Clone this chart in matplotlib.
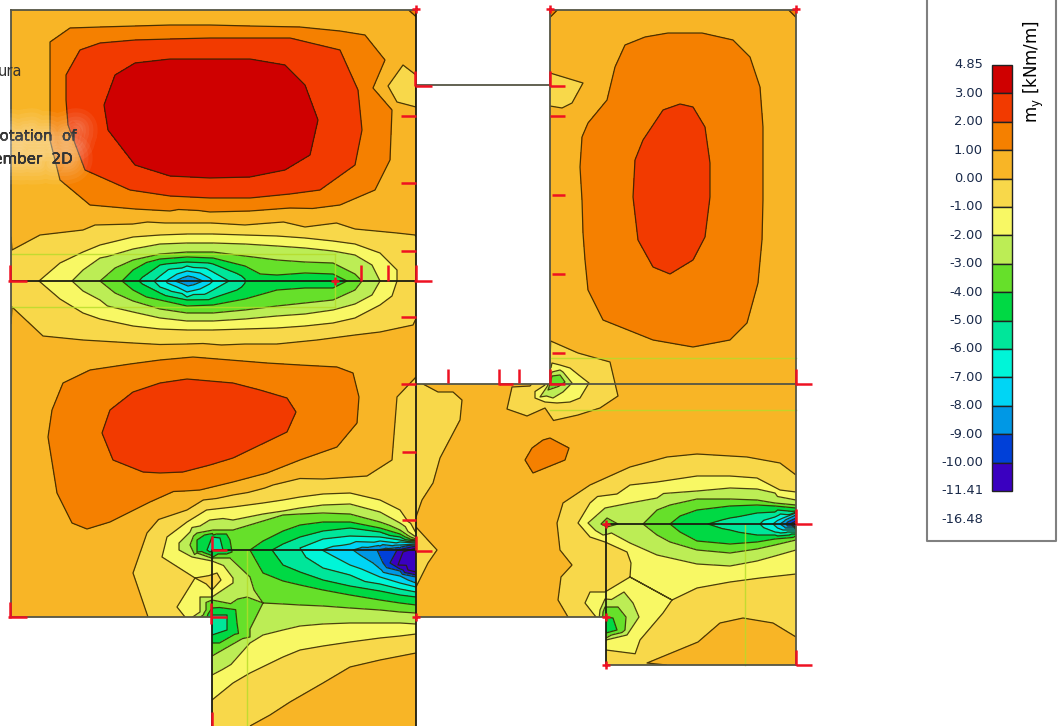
import matplotlib
matplotlib.use('Agg')
import matplotlib.pyplot as plt
import matplotlib.patheffects as pe
import matplotlib.tri as tri
from matplotlib.path import Path

plt.rcParams['contour.negative_linestyle'] = 'solid'

# legend
tick_labels = ['4.85', '3.00', '2.00', '1.00', '0.00', '-1.00', '-2.00', '-3.00', '-4.00',
               '-5.00', '-6.00', '-7.00', '-8.00', '-9.00', '-10.00', '-11.41', '-16.48']
band_colors = ['#cf0000', '#f23a00', '#f58000', '#f8b526', '#f8d84a', '#f8f864', '#bced55', '#66e02a',
               '#00d944', '#00e69a', '#00f5d8', '#00d5f5', '#0098e5', '#0040d8', '#3a00c0']
levels = [-16.48, -11.41, -10, -9, -8, -7, -6, -5, -4, -3, -2, -1, 0, 1, 2, 3, 4.85]

# panel outlines in picture pixels
left_outline = [(11, 10), (416, 10), (416, 726), (212, 726), (212, 617), (11, 617)]
right_outline = [(550, 10), (796, 10), (796, 665), (606, 665), (606, 617), (416, 617), (416, 384), (550, 384)]

# left slab, moment samples: (x, y) for each value
a_amber = [(11, 10), (100, 10), (210, 10), (330, 10), (11, 100), (11, 200), (416, 40), (416, 140),
           (416, 200), (11, 360), (11, 450), (11, 540), (11, 617), (70, 617), (120, 617), (385, 360), (416, 350),
           (100, 600), (90, 560), (416, 700), (416, 726), (340, 726), (350, 700), (385, 690)]
a_corner = [(416, 10)]
a_corner_1 = [(405, 10), (416, 20)]
a_top_1 = [(50, 42), (70, 28), (100, 27), (135, 26), (170, 25), (210, 25), (250, 26), (300, 27), (340, 31), (365, 35),
           (385, 60), (392, 110), (390, 160), (375, 190), (340, 205), (290, 208), (250, 211), (210, 212), (170, 211),
           (135, 209), (90, 205), (60, 180), (50, 140), (50, 100), (50, 70)]
a_top_2 = [(66, 75), (80, 50), (100, 43), (135, 40), (170, 39), (210, 38), (250, 38), (290, 38), (340, 50), (358, 90),
           (362, 130), (355, 165), (320, 190), (290, 194), (250, 198), (210, 198), (170, 196), (130, 190), (85, 170),
           (68, 125), (66, 100)]
a_top_3 = [(104, 105), (115, 75), (135, 63), (170, 59), (210, 59), (250, 59), (285, 65), (305, 85), (318, 120),
           (310, 155), (285, 170), (250, 177), (210, 178), (170, 176), (135, 165), (108, 130)]
a_top_core = [(135, 118), (175, 118), (210, 118), (245, 118), (285, 118)]
a_island_0 = [(388, 86), (403, 65), (416, 75), (416, 107), (397, 102)]
a_island_core = [(414, 86)]
a_strip_0 = [(12, 250), (27, 233), (40, 235), (83, 230), (133, 224), (187, 223), (245, 225), (305, 227), (355, 229),
             (397, 233), (415, 235),
             (12, 307), (20, 330), (43, 336), (83, 340), (133, 343), (187, 344), (245, 344), (277, 344), (317, 340),
             (355, 335), (380, 332), (413, 325)]
a_strip_edge = [(11, 281), (416, 281)]
a_strip_m1 = [(39, 281), (60, 263), (83, 252), (100, 245), (133, 237), (160, 235), (187, 234), (213, 234), (245, 235),
              (277, 236), (305, 238), (333, 241), (355, 244), (380, 253), (397, 270), (397, 281),
              (60, 299), (83, 313), (100, 319), (133, 326), (160, 329), (187, 330), (213, 330), (245, 329), (277, 328),
              (305, 326), (333, 323), (355, 318), (380, 305), (392, 296)]
a_strip_m2 = [(72, 281), (83, 270), (100, 258), (133, 249), (160, 244), (187, 243), (213, 243), (245, 244), (277, 246),
              (305, 248), (333, 251), (355, 255), (372, 265), (380, 281),
              (83, 291), (100, 300), (133, 312), (160, 318), (187, 321), (213, 321), (245, 319), (277, 316), (305, 314),
              (333, 310), (355, 304), (372, 295)]
a_strip_m3 = [(100, 281), (115, 268), (133, 260), (160, 254), (187, 252), (213, 252), (245, 256), (277, 260), (305, 262),
              (333, 263), (355, 274), (362, 281),
              (115, 293), (133, 301), (160, 309), (187, 313), (213, 313), (245, 310), (277, 306), (305, 303), (333, 300),
              (355, 290)]
a_strip_m4 = [(122, 281), (133, 270), (160, 259), (187, 257), (213, 258), (245, 266), (277, 275), (305, 273), (333, 274),
              (347, 281),
              (133, 290), (160, 300), (187, 306), (213, 305), (245, 299), (277, 290), (305, 288), (333, 288)]
a_strip_neck = [(277, 281), (305, 281), (333, 281)]
a_strip_m5 = [(139, 281), (160, 265), (187, 262), (213, 264), (245, 279), (249, 281), (245, 283), (213, 298), (187, 300),
              (160, 293)]
a_strip_m6 = [(154, 281), (160, 276), (187, 266), (213, 272), (229, 281), (213, 290), (187, 297), (160, 287)]
a_strip_m7 = [(166, 281), (177, 274), (187, 271), (200, 273), (213, 281), (200, 289), (187, 292), (177, 287)]
a_strip_m8 = [(175, 281), (188, 276), (203, 281), (188, 286)]
a_strip_core = [(188, 281)]
a_crease_m15 = [(55, 281), (388, 281)]
a_crease_m25 = [(88, 281), (370, 281)]
a_crease_m35 = [(112, 281), (355, 281)]
a_crease_m45 = [(131, 281), (252, 281)]
a_crease_m55 = [(147, 281), (240, 281)]
a_crease_m65 = [(160, 281), (221, 281)]
a_crease_m75 = [(171, 281), (208, 281)]
a_low_1 = [(48, 437), (52, 410), (63, 383), (90, 370), (130, 364), (160, 360), (193, 357), (230, 360), (267, 363),
           (300, 365), (337, 367), (353, 373), (359, 397), (357, 423), (337, 447), (300, 460), (267, 473), (233, 482),
           (200, 490), (150, 502), (110, 522), (87, 529), (72, 523), (57, 493)]
a_low_2 = [(102, 433), (110, 410), (133, 392), (160, 383), (187, 379), (210, 381), (233, 383), (260, 390), (287, 398),
           (296, 412), (287, 432), (260, 445), (233, 458), (210, 465), (183, 472), (160, 473), (143, 472), (113, 460)]
a_low_core = [(130, 430), (160, 428), (190, 425), (220, 422), (255, 420)]
a_feat_0 = [(148, 617), (133, 573), (147, 533), (187, 510), (233, 495), (273, 485), (323, 479), (367, 476), (392, 460),
            (397, 397), (402, 382), (416, 377), (416, 520),
            (416, 653), (380, 660), (350, 667), (323, 683), (290, 702), (292, 713), (270, 715), (250, 726)]
a_wall = [(416, 450), (408, 490)]
a_feat_m1 = [(177, 607), (162, 557), (167, 537), (187, 522), (233, 507), (263, 503), (283, 500), (300, 497), (323, 494),
             (350, 493), (380, 500), (400, 510), (416, 533),
             (185, 617), (416, 634), (400, 636), (380, 638), (350, 642), (323, 646), (300, 650), (283, 657), (250, 673),
             (233, 683), (212, 700),
             (195, 578), (217, 573), (221, 580), (212, 590)]
a_feat_m1_low = [(212, 726)]
a_island_m1_core = [(208, 580)]
a_feat_m2 = [(179, 543), (190, 532), (233, 520), (263, 514), (283, 511), (300, 508), (323, 505), (350, 504), (380, 512),
             (400, 523), (416, 537),
             (179, 550), (192, 557), (212, 561), (233, 578), (233, 583), (212, 597), (200, 597), (195, 605), (200, 612),
             (416, 624), (400, 623), (380, 623), (350, 623), (323, 624), (300, 626), (283, 630), (263, 635), (250, 643),
             (212, 675)]
a_feat_m3 = [(190, 545), (197, 533), (213, 530), (233, 530), (263, 521), (283, 515), (300, 514), (323, 513), (350, 514),
             (380, 522), (400, 530), (416, 539),
             (197, 553), (213, 558), (230, 558), (250, 577), (254, 590), (247, 597), (212, 600),
             (416, 613), (400, 612), (380, 610), (350, 608), (323, 606), (300, 605), (283, 604), (263, 603), (250, 637),
             (212, 656)]
a_feat_m3_in = [(240, 607), (240, 550)]
a_feat_m4 = [(250, 550), (263, 541), (283, 531), (300, 525), (323, 522), (350, 522), (380, 528), (400, 534), (416, 540),
             (263, 573), (283, 581), (300, 585), (323, 590), (350, 595), (380, 600), (400, 603), (416, 605),
             (197, 540), (213, 535), (230, 540), (232, 552), (213, 557), (197, 552),
             (212, 608), (237, 623), (212, 643)]
a_feat_m5 = [(272, 550), (283, 544), (300, 537), (323, 531), (350, 528), (380, 532), (400, 537), (416, 541),
             (283, 565), (300, 572), (323, 580), (350, 586), (380, 591), (400, 595), (416, 597),
             (207, 550), (212, 537), (220, 538), (223, 550), (210, 552),
             (212, 615), (227, 615), (227, 630), (212, 635)]
a_blob_core = [(214, 546), (212, 622)]
a_feat_m6 = [(295, 550), (300, 548), (323, 539), (350, 536), (380, 537), (400, 540), (416, 542),
             (323, 568), (350, 575), (380, 584), (400, 589), (416, 592)]
a_feat_m7 = [(322, 550), (350, 544), (380, 541), (400, 542), (416, 543),
             (350, 565), (380, 577), (400, 583), (416, 587)]
a_feat_m8 = [(353, 550), (380, 546), (400, 545), (416, 544), (373, 563), (400, 576), (416, 583)]
a_feat_m9 = [(377, 550), (400, 548), (416, 545), (383, 563), (400, 571), (416, 577)]
a_feat_m10 = [(397, 550), (416, 546), (390, 563), (403, 570), (416, 575)]
a_feat_m11 = [(403, 552), (416, 548), (398, 565), (408, 570), (416, 572)]
a_feat_core = [(416, 555), (410, 560)]
a_line_m45 = [(262, 550)]
a_line_m55 = [(284, 550)]
a_line_m65 = [(309, 550)]
a_line_m75 = [(338, 550)]
a_line_m85 = [(365, 550)]
a_line_m95 = [(387, 550)]

a_samples = [(0.5, a_amber), (1.6, a_corner), (0.7, a_corner_1), (1, a_top_1), (2, a_top_2), (3, a_top_3),
             (3.8, a_top_core), (0, a_island_0), (-0.5, a_island_core), (0, a_strip_0), (-0.6, a_strip_edge),
             (-1, a_strip_m1), (-2, a_strip_m2), (-3, a_strip_m3), (-4, a_strip_m4), (-4.7, a_strip_neck),
             (-5, a_strip_m5), (-6, a_strip_m6), (-7, a_strip_m7), (-8, a_strip_m8), (-8.9, a_strip_core),
             (-1.5, a_crease_m15), (-2.5, a_crease_m25), (-3.5, a_crease_m35), (-4.5, a_crease_m45),
             (-5.5, a_crease_m55), (-6.5, a_crease_m65), (-7.5, a_crease_m75),
             (1, a_low_1), (2, a_low_2), (2.7, a_low_core), (0, a_feat_0), (-0.3, a_wall), (-1, a_feat_m1),
             (-0.3, a_feat_m1_low), (-0.7, a_island_m1_core), (-2, a_feat_m2), (-3, a_feat_m3), (-3.5, a_feat_m3_in),
             (-4, a_feat_m4), (-5, a_feat_m5), (-5.5, a_blob_core), (-6, a_feat_m6), (-7, a_feat_m7), (-8, a_feat_m8),
             (-9, a_feat_m9), (-10, a_feat_m10), (-11.41, a_feat_m11), (-13, a_feat_core),
             (-4.5, a_line_m45), (-5.5, a_line_m55), (-6.5, a_line_m65), (-7.5, a_line_m75), (-8.5, a_line_m85),
             (-9.5, a_line_m95)]

# right slabs
b_amber = [(620, 10), (700, 10), (796, 100), (796, 200), (796, 300), (796, 384), (796, 440),
           (550, 40), (550, 150), (550, 250), (550, 330), (620, 360), (700, 370), (770, 400), (700, 420), (620, 430),
           (690, 435), (750, 440), (500, 440), (480, 480), (520, 520), (480, 580), (520, 600), (530, 490), (590, 450),
           (490, 400), (480, 430), (490, 384), (416, 600), (416, 617), (440, 617), (500, 617), (540, 617), (700, 665),
           (745, 665), (796, 665), (750, 640), (796, 650), (440, 384), (416, 522), (660, 384), (720, 384)]
b_corners = [(796, 10), (550, 10)]
b_corners_1 = [(785, 10), (796, 21), (561, 10), (550, 21)]
b_dome_1 = [(668, 33), (702, 33), (733, 40), (750, 57), (760, 87), (763, 127), (763, 165), (763, 200), (762, 240),
            (758, 283), (747, 323), (730, 340), (693, 347), (653, 340), (603, 320), (588, 290), (585, 260), (583, 233),
            (582, 200), (580, 167), (582, 137), (588, 123), (607, 100), (615, 67), (625, 45), (645, 37)]
b_dome_2 = [(680, 104), (693, 107), (705, 127), (710, 163), (710, 197), (705, 237), (693, 260), (670, 274), (653, 267),
            (638, 240), (633, 197), (635, 160), (643, 140), (663, 110)]
b_dome_core = [(670, 135), (672, 165), (670, 190), (670, 215), (670, 245)]
b_island_0 = [(550, 73), (563, 63), (583, 83), (572, 103), (562, 108), (550, 106)]
b_island_core = [(550, 88)]
b_patch_1 = [(525, 460), (533, 473), (565, 460), (569, 448), (550, 438), (543, 440), (532, 448)]
b_patch_core = [(547, 455)]
c_band_0 = [(423, 384), (438, 392), (453, 392), (462, 384), (470, 385), (462, 400), (460, 420), (440, 458), (433, 483),
            (422, 500), (419, 513), (416, 517), (416, 527), (437, 550), (428, 563), (416, 587)]
c_band_in = [(416, 384), (416, 400), (416, 470), (416, 550), (440, 420)]
c_node_0 = [(502, 397), (512, 387), (530, 386), (507, 409), (527, 416), (545, 408), (578, 415), (600, 408), (618, 396),
            (637, 383), (644, 371), (610, 362), (578, 353), (550, 363), (777, 397), (785, 403), (795, 399), (783, 388),
            (795, 392)]
c_node_m1 = [(545, 385), (535, 398), (545, 402), (557, 403), (570, 402), (580, 398), (589, 383), (580, 376), (570, 368),
             (560, 365), (552, 363)]
c_node_m2 = [(548, 385), (540, 397), (553, 398), (563, 392), (572, 383), (563, 372), (552, 372)]
c_node_m3 = [(550, 384), (548, 390), (565, 382), (560, 375), (552, 376)]
c_node_core = [(556, 383)]
c_feat_0 = [(796, 475), (780, 463), (747, 457), (697, 454), (667, 457), (630, 467), (590, 485), (563, 503), (557, 523),
            (560, 550), (572, 565), (561, 577), (558, 600), (568, 617),
            (796, 637), (773, 623), (743, 618), (720, 623), (698, 642), (697, 652), (647, 663)]
c_feat_in = [(606, 665), (640, 665), (580, 617)]
c_feat_m1 = [(796, 492), (780, 490), (757, 478), (730, 476), (697, 476), (657, 482), (617, 494), (590, 503), (578, 523),
             (590, 537), (605, 542), (627, 552), (631, 563), (630, 577), (605, 592), (590, 592), (585, 603), (592, 612),
             (596, 617),
             (606, 650), (640, 640), (663, 613), (672, 600), (697, 588), (730, 582), (760, 578), (796, 574)]
c_feat_m2 = [(796, 500), (775, 493), (757, 489), (730, 488), (697, 491), (657, 498), (630, 503), (605, 508), (588, 523),
             (603, 535), (630, 543), (657, 555), (697, 564), (730, 566), (757, 561), (775, 556), (796, 550),
             (600, 610), (605, 599), (633, 603), (639, 617), (627, 635), (606, 640)]
c_feat_m25 = [(625, 524)]
c_feat_m3 = [(796, 505), (775, 503), (757, 500), (730, 499), (697, 499), (670, 505), (657, 510), (643, 524), (657, 535),
             (670, 542), (697, 550), (730, 553), (757, 549), (775, 545), (796, 540),
             (601, 524), (607, 518), (618, 524), (607, 527),
             (603, 612), (605, 607), (618, 607), (626, 617), (625, 630), (606, 638)]
c_mini_core = [(607, 523)]
c_feat_m4 = [(796, 508), (775, 506), (757, 505), (730, 506), (697, 510), (680, 516), (670, 524), (680, 532), (697, 541),
             (730, 544), (757, 542), (775, 539), (796, 536),
             (606, 617), (613, 618), (617, 630), (606, 633)]
c_line_m35 = [(654, 524)]
c_line_m43 = [(679, 524)]
c_line_m46 = [(695, 524)]
c_line_m53 = [(720, 524)]
c_line_m55 = [(731, 524)]
c_line_m57 = [(745, 524)]
c_line_m65 = [(767, 524)]
c_blob_core = [(606, 624)]
c_feat_m5 = [(708, 524), (730, 518), (757, 513), (775, 512), (796, 511),
             (730, 530), (757, 535), (775, 535), (796, 534)]
c_feat_m6 = [(760, 524), (775, 517), (796, 512), (775, 532), (796, 532)]
c_feat_m7 = [(773, 524), (783, 518), (796, 513), (783, 530), (796, 530)]
c_feat_m8 = [(780, 524), (796, 515), (796, 529)]
c_feat_m9 = [(786, 524), (796, 518), (796, 528)]
c_feat_m10 = [(790, 524), (796, 521), (796, 527)]
c_feat_core = [(796, 524)]

bc_samples = [(0.5, b_amber), (1.6, b_corners), (0.7, b_corners_1), (1, b_dome_1), (2, b_dome_2), (2.6, b_dome_core),
              (0, b_island_0), (-0.5, b_island_core), (1, b_patch_1), (1.4, b_patch_core), (0, c_band_0),
              (-0.4, c_band_in), (0, c_node_0), (-1, c_node_m1), (-2, c_node_m2), (-3, c_node_m3), (-3.6, c_node_core),
              (0, c_feat_0), (-0.4, c_feat_in), (-1, c_feat_m1), (-2, c_feat_m2), (-2.5, c_feat_m25), (-3, c_feat_m3),
              (-3.6, c_mini_core), (-4, c_feat_m4), (-3.5, c_line_m35), (-4.3, c_line_m43), (-4.6, c_line_m46),
              (-5.3, c_line_m53), (-5.5, c_line_m55), (-5.7, c_line_m57), (-6.5, c_line_m65),
              (-4.5, c_blob_core), (-5, c_feat_m5), (-6, c_feat_m6), (-7, c_feat_m7), (-8, c_feat_m8), (-9, c_feat_m9),
              (-10, c_feat_m10), (-12, c_feat_core)]

# model lines: (x0, y0, x1, y1)
outline_lines = [(11, 10, 416, 10), (11, 10, 11, 617), (11, 617, 212, 617), (416, 85, 550, 85), (550, 10, 796, 10),
                 (550, 10, 550, 384), (796, 10, 796, 665), (416, 384, 796, 384), (416, 617, 606, 617),
                 (606, 665, 796, 665)]
black_lines = [(416, 10, 416, 726), (212, 550, 212, 726), (11, 281, 416, 281), (212, 550, 416, 550),
               (606, 524, 606, 665), (606, 524, 796, 524)]
green_lines = [(11, 254, 335, 254), (11, 307, 335, 307), (335, 254, 335, 307), (247, 550, 247, 726),
               (550, 358, 796, 358), (550, 410, 796, 410), (745, 525, 745, 665)]
red_lines = [(8, 281, 27, 281), (10, 265, 10, 281), (414, 281, 432, 281), (416, 265, 416, 281), (361, 265, 361, 281),
             (388, 265, 388, 281), (415, 86, 432, 86), (415, 71, 415, 86), (550, 86, 565, 86), (550, 71, 550, 86),
             (401, 116, 416, 116), (401, 183, 416, 183), (401, 251, 416, 251), (401, 317, 416, 317),
             (401, 384, 416, 384), (402, 452, 416, 452), (402, 520, 416, 520), (550, 116, 565, 116),
             (552, 195, 565, 195), (552, 274, 565, 274), (552, 353, 565, 353), (448, 369, 448, 383),
             (499, 369, 499, 385), (519, 369, 519, 383), (499, 384, 513, 384), (550, 369, 550, 385),
             (550, 384, 565, 384), (796, 369, 796, 385), (796, 384, 812, 384), (10, 602, 10, 618), (8, 617, 27, 617),
             (212, 536, 212, 550), (212, 550, 227, 550), (416, 536, 416, 550), (416, 551, 432, 551),
             (211, 603, 211, 624), (211, 617, 227, 617), (212, 712, 212, 726), (796, 509, 796, 524),
             (796, 524, 812, 524), (796, 650, 796, 665), (796, 665, 812, 665)]
red_nodes = [(416, 9), (550, 9), (796, 9), (335, 281), (416, 617), (606, 524), (606, 617), (606, 665)]


def draw_panel(ax, samples, outline):
    xs, ys, zs = [], [], []
    for value, points in samples:
        for x, y in points:
            xs.append(x)
            ys.append(y)
            zs.append(value)
    mesh = tri.Triangulation(xs, ys)
    clip = Path(outline + [outline[0]])
    filled = ax.tricontourf(mesh, zs, levels=levels, colors=['#3a00c0'] + band_colors[::-1], zorder=1)
    filled.set_clip_path(clip, ax.transData)
    lines = ax.tricontour(mesh, zs, levels=levels[1:-1], colors='#2a2200', linewidths=0.9, alpha=0.85, zorder=2)
    lines.set_clip_path(clip, ax.transData)


fig = plt.figure(figsize=(10.61, 7.26), dpi=100)
ax = fig.add_axes([0, 0, 1, 1])
ax.set_xlim(0, 1061)
ax.set_ylim(726, 0)
ax.axis('off')

draw_panel(ax, a_samples, left_outline)
draw_panel(ax, bc_samples, right_outline)

for x0, y0, x1, y1 in green_lines:
    ax.plot([x0, x1], [y0, y1], color='#b5dc2a', lw=1.0, alpha=0.8, zorder=3)
for x0, y0, x1, y1 in outline_lines:
    ax.plot([x0, x1], [y0, y1], color='#555544', lw=1.3, zorder=4)
for x0, y0, x1, y1 in black_lines:
    ax.plot([x0, x1], [y0, y1], color='#1c1c10', lw=1.3, zorder=4)
for x0, y0, x1, y1 in red_lines:
    ax.plot([x0, x1], [y0, y1], color='#ee1122', lw=1.8, solid_capstyle='butt', zorder=5)
ax.plot([p[0] for p in red_nodes], [p[1] for p in red_nodes], '+', color='#ee1122', ms=6, mew=1.8, zorder=5)

# clipped help text with its glow
glow = [pe.withStroke(linewidth=w, foreground='white', alpha=0.06) for w in (30, 24, 18, 13, 9, 5)] + [pe.Normal()]
ax.text(22, 72, 'ura', ha='right', va='center', fontsize=10.5, color='#333333', zorder=6)
ax.text(77, 136, 'Rotation  of', ha='right', va='center', fontsize=10.8, color='#333333', zorder=6, path_effects=glow)
ax.text(73, 159, 'Member  2D', ha='right', va='center', fontsize=10.8, color='#333333', zorder=6, path_effects=glow)

# legend box
ax.plot([927, 927, 1056, 1056], [-2, 541, 541, -2], color='#808080', lw=1.5, zorder=6)
swatch_h = 28.4
ax.bar([1002] * len(band_colors), [swatch_h] * len(band_colors), width=20,
       bottom=[65 + i * swatch_h for i in range(len(band_colors))], color=band_colors,
       edgecolor='#222222', linewidth=1.0, zorder=6)
for i, label in enumerate(tick_labels):
    ax.text(983, 65 + i * swatch_h, label, ha='right', va='center', fontsize=9.4, color='#1a2a4a', zorder=6)
ax.text(1034, 72, r'm$_{\mathrm{y}}$ [kNm/m]', rotation=90, ha='center', va='center', fontsize=12,
        color='black', zorder=6)

fig.savefig('out.png', dpi=100)
